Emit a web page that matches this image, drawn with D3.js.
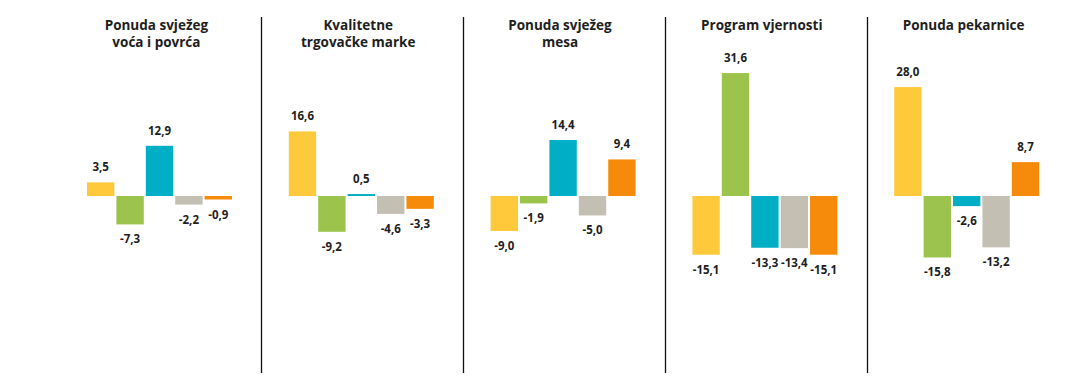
<!DOCTYPE html>
<html>
<head>
<meta charset="utf-8">
<script src="https://cdn.jsdelivr.net/npm/d3@7"></script>
<style>
  html, body { margin: 0; padding: 0; background: #fff; }
  svg { display: block; }
  text { font-family: "Open Sans", "Noto Sans", sans-serif; fill: #1e1e1e; }
</style>
</head>
<body>
<svg id="chart" width="1066" height="383"></svg>
<script>
// ---- data ----
const categories = [
  "Ponuda svježeg voća i povrća",
  "Kvalitetne trgovačke marke",
  "Ponuda svježeg mesa",
  "Program vjernosti",
  "Ponuda pekarnice"
];
const categoryTitleLines = [
  ["Ponuda svježeg", "voća i povrća"],
  ["Kvalitetne", "trgovačke marke"],
  ["Ponuda svježeg", "mesa"],
  ["Program vjernosti"],
  ["Ponuda pekarnice"]
];
const seriesNames = ["S1", "S2", "S3", "S4", "S5"];
const seriesS1 = [3.5, 16.6, -9.0, -15.1, 28.0];
const seriesS2 = [-7.3, -9.2, -1.9, 31.6, -15.8];
const seriesS3 = [12.9, 0.5, 14.4, -13.3, -2.6];
const seriesS4 = [-2.2, -4.6, -5.0, -13.4, -13.2];
const seriesS5 = [-0.9, -3.3, 9.4, -15.1, 8.7];
const seriesValues = [seriesS1, seriesS2, seriesS3, seriesS4, seriesS5];
const seriesColors = ["#FFC93C", "#9CC34B", "#00AEC6", "#C3BFB3", "#F68A0A"];

// ---- layout ----
const svg = d3.select("#chart");
const panelScale = d3.scaleBand().domain(categories).range([59.5, 1068.5]).padding(0);
const yScale = d3.scaleLinear().domain([-20, 40]).range([273.8, 40.4]);
const barInnerLeft = 27.5, barInnerWidth = 145;

const loc = d3.formatLocale({decimal: ",", thousands: ".", grouping: [3], currency: ["", ""], minus: "-"});
const fmt = loc.format(".1f");

// dividers between panels
const dividers = categories.slice(1).map(c => panelScale(c));
svg.append("g").selectAll("line").data(dividers).join("line")
  .attr("x1", d => Math.round(d) + 0.5).attr("x2", d => Math.round(d) + 0.5)
  .attr("y1", 17).attr("y2", 373)
  .attr("stroke", "#111").attr("stroke-width", 1.3);

categories.forEach((cat, ci) => {
  const px = panelScale(cat);
  const pw = panelScale.bandwidth();
  const g = svg.append("g");

  // title
  const t = g.append("text")
    .attr("text-anchor", "middle")
    .attr("font-size", 13.5).attr("font-weight", 700);
  categoryTitleLines[ci].forEach((line, li) => {
    t.append("tspan").attr("x", px + pw / 2 - 4).attr("y", 30 + li * 17).text(line);
  });

  const xBar = d3.scaleBand().domain(seriesNames)
    .range([px + barInnerLeft, px + barInnerLeft + barInnerWidth])
    .paddingInner(0.07).paddingOuter(0);

  const data = seriesNames.map((s, si) => ({s, v: seriesValues[si][ci], color: seriesColors[si]}));

  g.selectAll("rect").data(data).join("rect")
    .attr("x", d => xBar(d.s))
    .attr("width", xBar.bandwidth())
    .attr("y", d => yScale(Math.max(0, d.v)))
    .attr("height", d => Math.abs(yScale(d.v) - yScale(0)))
    .attr("fill", d => d.color);

  g.selectAll("text.lbl").data(data).join("text")
    .attr("class", "lbl")
    .attr("text-anchor", "middle")
    .attr("font-size", 11.5).attr("font-weight", 700)
    .attr("x", d => xBar(d.s) + xBar.bandwidth() / 2)
    .attr("y", d => d.v >= 0 ? yScale(d.v) - 11 : yScale(d.v) + 19)
    .text(d => fmt(d.v));
});
</script>
</body>
</html>
